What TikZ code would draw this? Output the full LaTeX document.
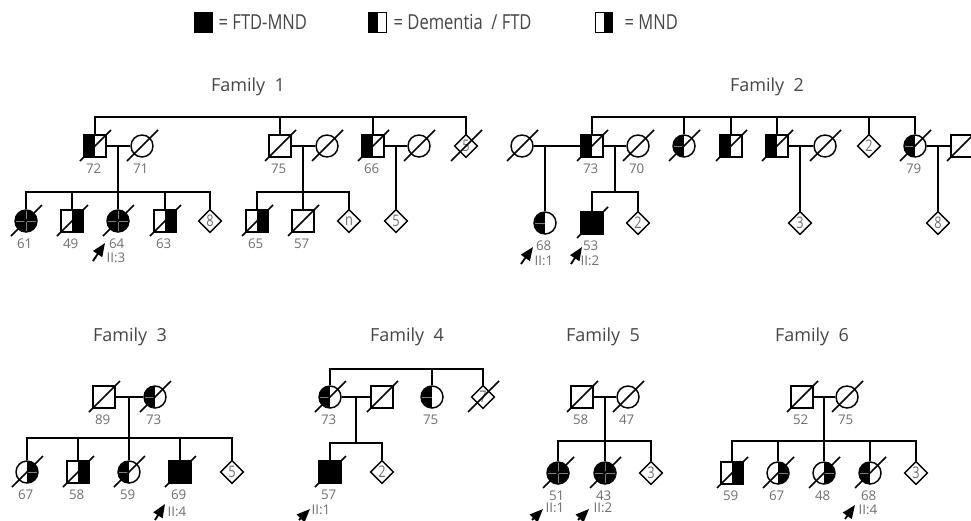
\documentclass[tikz,border=0pt]{standalone}
\usepackage{fontspec}
\usepackage{graphicx}
\setmainfont{Open Sans}
\usetikzlibrary{shapes.geometric, arrows.meta, calc}
\definecolor{agegray}{HTML}{6E6E6E}
\definecolor{titlegray}{HTML}{454545}
\newcommand{\squeeze}[1]{\scalebox{0.8}[1]{#1}}

\begin{document}
\begin{tikzpicture}[x=0.75pt, y=-0.75pt, line width=1.1pt,
    sym/.style={draw, line width=1.1pt, inner sep=0pt, minimum size=16.5pt},
    male/.style={sym, rectangle},
    female/.style={sym, circle},
    unknown/.style={sym, diamond, minimum size=17.5pt, text=agegray, font=\fontsize{12}{12}\selectfont},
    crossline/.style={gray, line width=0.4pt},
    lhalf/.style={path picture={\fill (path picture bounding box.south west) rectangle (path picture bounding box.north);}},
    rhalf/.style={path picture={\fill (path picture bounding box.south) rectangle (path picture bounding box.north east);}},
    lhalfc/.style={path picture={\fill (path picture bounding box.south west) rectangle (path picture bounding box.north);
        \draw[crossline] (path picture bounding box.center) -- (path picture bounding box.west);}},
    rhalfc/.style={path picture={\fill (path picture bounding box.south) rectangle (path picture bounding box.north east);
        \draw[crossline] (path picture bounding box.center) -- (path picture bounding box.east);}},
    fullc/.style={fill=black, path picture={\draw[crossline] (path picture bounding box.north) -- (path picture bounding box.south);
        \draw[crossline] (path picture bounding box.west) -- (path picture bounding box.east);}},
    age/.style={yshift=-8.5pt, xshift=-1pt, inner sep=0pt, text=agegray, font=\fontsize{10}{11}\selectfont},
    idx/.style={inner sep=0pt, text=agegray, font=\fontsize{10}{11}\selectfont},
    famtitle/.style={inner sep=0pt, text=titlegray, font=\fontsize{13.5}{15}\selectfont},
    proband/.style={line width=1.4pt, -{Triangle[length=10pt, width=8pt]}},
    legbox/.style={draw, line width=0.8pt, inner sep=0pt, minimum width=13pt, minimum height=15.5pt},
    legtext/.style={anchor=west, inner sep=0pt, text=titlegray, font=\fontsize{15.5}{17}\selectfont}]

    \useasboundingbox (0,0) rectangle (971,521);

    % key
    \node[legbox, fill=black] (kboth) at (203.5,22.5) {};
    \node[legtext] (kboth-t) at (218,22.5) {\squeeze{= FTD-MND}};
    \node[legbox, lhalf] (kftd) at (377.5,22.5) {};
    \node[legtext] (kftd-t) at (393,22.5) {\squeeze{= Dementia\ \ / FTD}};
    \node[legbox, rhalf] (kmnd) at (604,22.5) {};
    \node[legtext] (kmnd-t) at (624,22.5) {\squeeze{= MND}};

    % Family 1
    \node[famtitle] (t1) at (248,87) {Family\ \ 1};
    \coordinate (f1top) at (0,117);
    \coordinate (f1sib) at (0,192);
    \node[male, lhalf] (f1a) at (95,146) {};
    \node[female] (f1b) at (142,146) {};
    \node[male] (f1c) at (280,146) {};
    \node[female] (f1d) at (327,146) {};
    \node[male, lhalf] (f1e) at (373,146) {};
    \node[female] (f1f) at (419,146) {};
    \node[unknown] (f1g) at (466,146) {\squeeze{5}};
    \node[female, fullc] (f1h) at (26,221) {};
    \node[male, rhalf] (f1i) at (72,221) {};
    \node[female, fullc] (f1j) at (118,221) {};
    \node[male, rhalf] (f1k) at (165,221) {};
    \node[unknown] (f1l) at (210,221) {\squeeze{8}};
    \node[male, rhalf] (f1m) at (257,221) {};
    \node[male] (f1n) at (303,221) {};
    \node[unknown] (f1o) at (349,221) {\squeeze{n}};
    \node[unknown] (f1p) at (396,221) {\squeeze{5}};

    \node[age] (f1a-n) at (f1a.south) {72};
    \node[age] (f1b-n) at (f1b.south) {71};
    \node[age] (f1c-n) at (f1c.south) {75};
    \node[age] (f1e-n) at (f1e.south) {66};
    \node[age] (f1h-n) at (f1h.south) {61};
    \node[age] (f1i-n) at (f1i.south) {49};
    \node[age] (f1j-n) at (f1j.south) {64};
    \node[age] (f1k-n) at (f1k.south) {63};
    \node[age] (f1m-n) at (f1m.south) {65};
    \node[age] (f1n-n) at (f1n.south) {57};
    \node[idx] (f1j-id) at ([shift={(-2,37)}]f1j.center) {II:3};

    \draw (f1a.north) |- (f1g.north |- f1top) -- (f1g.north);
    \foreach \n in {f1c,f1e} \draw (\n.north) -- (\n.north |- f1top);
    \draw (f1a) -- (f1b);
    \draw (f1c) -- (f1d);
    \draw (f1e) -- (f1f);
    \draw (f1j.north) -- (f1j.north |- f1a);
    \draw (f1h.north) |- (f1l.north |- f1sib) -- (f1l.north);
    \foreach \n in {f1i,f1k} \draw (\n.north) -- (\n.north |- f1sib);
    \draw (f1n.north) -- (f1n.north |- f1c);
    \draw (f1m.north) |- (f1o.north |- f1sib) -- (f1o.north);
    \draw (f1p.north) -- (f1p.north |- f1e);
    \draw[proband] ([shift={(-25,40)}]f1j.center) -- ([shift={(-13,22)}]f1j.center);

    % Family 2
    \node[famtitle] (t2) at (767,87) {Family\ \ 2};
    \coordinate (f2top) at (0,117);
    \coordinate (f2sib) at (0,192);
    \node[female] (f2a) at (522,146) {};
    \node[male, lhalf] (f2b) at (592,146) {};
    \node[female] (f2c) at (638,146) {};
    \node[female, lhalfc] (f2d) at (684,146) {};
    \node[male, lhalf] (f2e) at (731,146) {};
    \node[male, lhalf] (f2f) at (777,146) {};
    \node[female] (f2g) at (825,146) {};
    \node[unknown] (f2h) at (869,146) {\squeeze{2}};
    \node[female, lhalfc] (f2i) at (915,146) {};
    \node[male] (f2j) at (962,146) {};
    \node[female, lhalfc] (f2k) at (545,223) {};
    \node[male, fill=black] (f2l) at (592,223) {};
    \node[unknown] (f2m) at (638,223) {\squeeze{2}};
    \node[unknown] (f2n) at (800,223) {\squeeze{3}};
    \node[unknown] (f2o) at (938,223) {\squeeze{8}};
    \coordinate (f2bc) at ($(f2b)!0.5!(f2c)$);

    \node[age] (f2b-n) at (f2b.south) {73};
    \node[age] (f2c-n) at (f2c.south) {70};
    \node[age] (f2i-n) at (f2i.south) {79};
    \node[age] (f2k-n) at (f2k.south) {68};
    \node[age] (f2l-n) at (f2l.south) {53};
    \node[idx] (f2k-id) at ([shift={(-1,38)}]f2k.center) {II:1};
    \node[idx] (f2l-id) at ([shift={(-2,38)}]f2l.center) {II:2};

    \draw (f2b.north) |- (f2i.north |- f2top) -- (f2i.north);
    \foreach \n in {f2d,f2e,f2f,f2h} \draw (\n.north) -- (\n.north |- f2top);
    \draw (f2a) -- (f2b);
    \draw (f2b) -- (f2c);
    \draw (f2f) -- (f2g);
    \draw (f2i) -- (f2j);
    \draw (f2k.north) -- (f2k.north |- f2a);
    \draw (f2bc) -- (f2bc |- f2sib);
    \draw (f2l.north) |- (f2m.north |- f2sib) -- (f2m.north);
    \draw (f2n.north) -- (f2n.north |- f2f);
    \draw (f2o.north) -- (f2o.north |- f2i);
    \draw[proband] ([shift={(-24,41)}]f2k.center) -- ([shift={(-12,24)}]f2k.center);
    \draw[proband] ([shift={(-21,41)}]f2l.center) -- ([shift={(-10,24)}]f2l.center);

    % Family 3
    \node[famtitle] (t3) at (130,337) {Family\ \ 3};
    \coordinate (f3sib) at (0,438);
    \node[male] (f3a) at (104,397) {};
    \node[female, lhalfc] (f3b) at (155,397) {};
    \node[female, rhalfc] (f3c) at (27,472) {};
    \node[male, rhalf] (f3d) at (78,472) {};
    \node[female, lhalfc] (f3e) at (129,472) {};
    \node[male, fill=black] (f3f) at (180,472) {};
    \node[unknown] (f3g) at (232,472) {\squeeze{5}};

    \node[age] (f3a-n) at (f3a.south) {89};
    \node[age] (f3b-n) at (f3b.south) {73};
    \node[age] (f3c-n) at (f3c.south) {67};
    \node[age] (f3d-n) at (f3d.south) {58};
    \node[age] (f3e-n) at (f3e.south) {59};
    \node[age] (f3f-n) at (f3f.south) {69};
    \node[idx] (f3f-id) at ([shift={(-3,40)}]f3f.center) {II:4};

    \draw (f3a) -- (f3b);
    \draw (f3e.north) -- (f3e.north |- f3a);
    \draw (f3c.north) |- (f3g.north |- f3sib) -- (f3g.north);
    \foreach \n in {f3d,f3f} \draw (\n.north) -- (\n.north |- f3sib);
    \draw[proband] ([shift={(-25,48)}]f3f.center) -- ([shift={(-15,32)}]f3f.center);

    % Family 4
    \node[famtitle] (t4) at (407,337) {Family\ \ 4};
    \coordinate (f4top) at (0,369);
    \coordinate (f4sib) at (0,443);
    \node[female, lhalfc] (f4a) at (330,397) {};
    \node[male] (f4b) at (382,397) {};
    \node[female, lhalfc] (f4c) at (432,397) {};
    \node[unknown] (f4d) at (483,397) {\squeeze{7}};
    \node[male, fill=black] (f4e) at (330,472) {};
    \node[unknown] (f4f) at (382,472) {\squeeze{2}};
    \coordinate (f4ab) at (356,397);

    \node[age] (f4a-n) at (f4a.south) {73};
    \node[age] (f4c-n) at (f4c.south) {75};
    \node[age] (f4e-n) at (f4e.south) {57};
    \node[idx] (f4e-id) at ([shift={(-9,38)}]f4e.center) {II:1};

    \draw (f4a.north) |- (f4d.north |- f4top) -- (f4d.north);
    \draw (f4c.north) -- (f4c.north |- f4top);
    \draw (f4a) -- (f4b);
    \draw (f4ab) -- (f4ab |- f4sib);
    \draw (f4e.north) |- (f4f.north |- f4sib) -- (f4f.north);
    \draw[proband] ([shift={(-31,48)}]f4e.center) -- ([shift={(-20,37)}]f4e.center);

    % Family 5
    \node[famtitle] (t5) at (603,337) {Family\ \ 5};
    \coordinate (f5sib) at (0,441);
    \node[male] (f5a) at (582,397) {};
    \node[female] (f5b) at (628,397) {};
    \node[female, fullc] (f5c) at (558,473) {};
    \node[female, fullc] (f5d) at (605,473) {};
    \node[unknown] (f5e) at (651,473) {\squeeze{3}};

    \node[age] (f5a-n) at (f5a.south) {58};
    \node[age] (f5b-n) at (f5b.south) {47};
    \node[age] (f5c-n) at (f5c.south) {51};
    \node[age] (f5d-n) at (f5d.south) {43};
    \node[idx] (f5c-id) at ([shift={(-3,35)}]f5c.center) {II:1};
    \node[idx] (f5d-id) at ([shift={(-2,35)}]f5d.center) {II:2};

    \draw (f5a) -- (f5b);
    \draw (f5d.north) -- (f5d.north |- f5a);
    \draw (f5c.north) |- (f5e.north |- f5sib) -- (f5e.north);
    \draw[proband] ([shift={(-26,47)}]f5c.center) -- ([shift={(-15,36)}]f5c.center);
    \draw[proband] ([shift={(-27,47)}]f5d.center) -- ([shift={(-16,36)}]f5d.center);

    % Family 6
    \node[famtitle] (t6) at (812,337) {Family\ \ 6};
    \coordinate (f6sib) at (0,441);
    \node[male] (f6a) at (802,397) {};
    \node[female] (f6b) at (847,397) {};
    \node[male, rhalf] (f6c) at (732,473) {};
    \node[female, rhalfc] (f6d) at (778,473) {};
    \node[female, rhalfc] (f6e) at (824,473) {};
    \node[female, lhalfc] (f6f) at (870,473) {};
    \node[unknown] (f6g) at (916,473) {\squeeze{3}};

    \node[age] (f6a-n) at (f6a.south) {52};
    \node[age] (f6b-n) at (f6b.south) {75};
    \node[age] (f6c-n) at (f6c.south) {59};
    \node[age] (f6d-n) at (f6d.south) {67};
    \node[age] (f6e-n) at (f6e.south) {48};
    \node[age] (f6f-n) at (f6f.south) {68};
    \node[idx] (f6f-id) at ([shift={(-2,37)}]f6f.center) {II:4};

    \draw (f6a) -- (f6b);
    \draw (f6e.north) -- (f6e.north |- f6a);
    \draw (f6c.north) |- (f6g.north |- f6sib) -- (f6g.north);
    \foreach \n in {f6d,f6f} \draw (\n.north) -- (\n.north |- f6sib);
    \draw[proband] ([shift={(-25,46)}]f6f.center) -- ([shift={(-15,32)}]f6f.center);

    % deceased
    \foreach \n in {f1a,f1b,f1c,f1d,f1e,f1f,f1g,f1h,f1i,f1j,f1k,f1m,f1n,
                    f2a,f2b,f2c,f2d,f2e,f2f,f2g,f2i,f2j,f2l,
                    f3a,f3b,f3c,f3d,f3e,f3f,
                    f4a,f4b,f4d,f4e,
                    f5a,f5b,f5c,f5d,
                    f6a,f6b,f6c,f6d,f6e,f6f}
        \draw ([shift={(-15,15)}]\n.center) -- ([shift={(16,-16)}]\n.center);

\end{tikzpicture}
\end{document}
